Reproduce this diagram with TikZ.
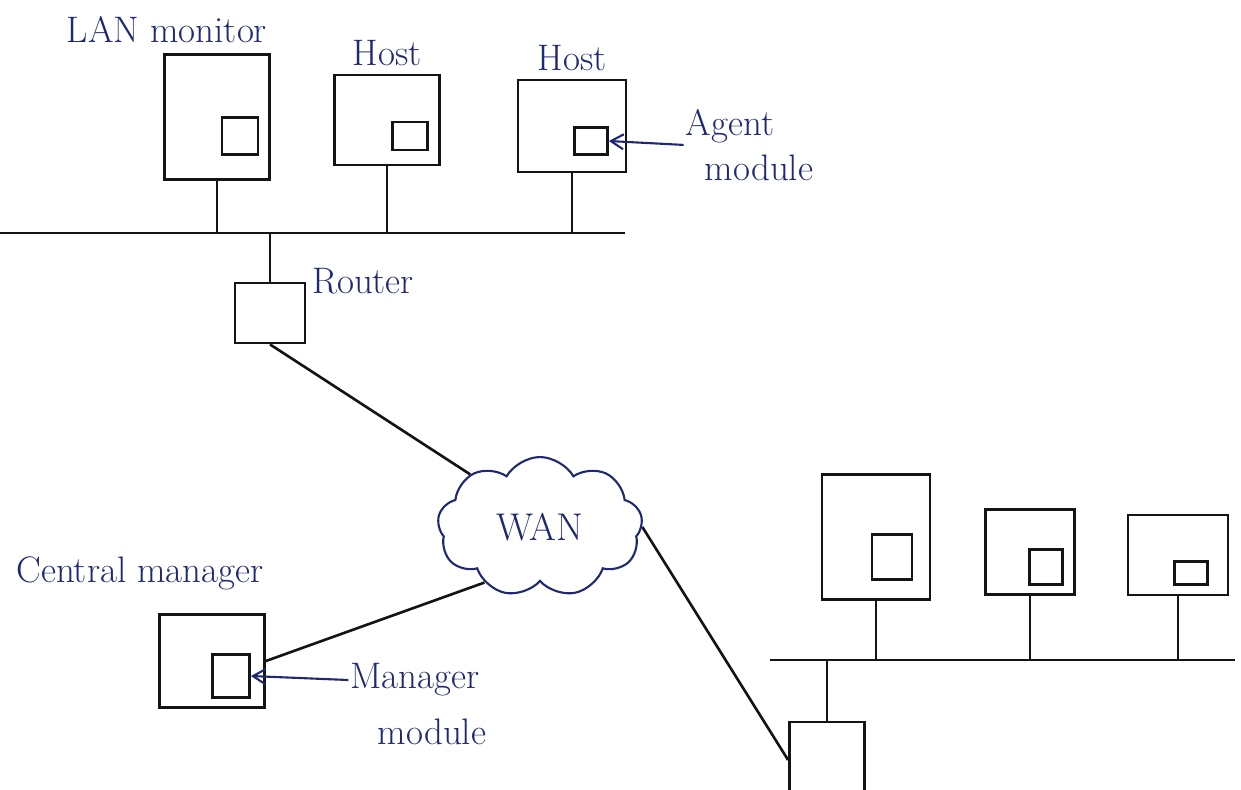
\documentclass[tikz,border=0pt]{standalone}
\usepackage{tikz}
\usetikzlibrary{shapes.symbols, arrows.meta, positioning}
\definecolor{ink}{RGB}{30,40,115}
\definecolor{pen}{RGB}{20,20,20}

\begin{document}
\begin{tikzpicture}[x=0.02cm, y=-0.02cm,
    box/.style={draw=pen, rectangle, line width=1.6pt, inner sep=0pt},
    lbl/.style={text=ink, inner sep=1pt, font=\fontsize{21}{25}\selectfont},
    wire/.style={draw=pen, line width=1.5pt},
    pointer/.style={draw=ink, line width=1.2pt, -{Straight Barb[length=2.5mm, width=3mm]}}]
    \useasboundingbox (0,0) rectangle (1241,789);
    \clip (0,0) rectangle (1241,789);
    % LAN with monitor and hosts
    \node (lanmon) [box, minimum width=2.1cm, minimum height=2.5cm] at (217,117) {};
    \node (lanmod) [box, minimum width=0.72cm, minimum height=0.74cm] at (240,136) {};
    \node (host1) [box, minimum width=2.1cm, minimum height=1.8cm] at (387,120) {};
    \node (host1mod) [box, minimum width=0.7cm, minimum height=0.56cm] at (410,136) {};
    \node (host2) [box, minimum width=2.16cm, minimum height=1.84cm] at (572,126) {};
    \node (host2mod) [box, minimum width=0.66cm, minimum height=0.54cm] at (591,141) {};
    \node (lanlbl) [lbl] at (167,30) {LAN monitor};
    \node (host1lbl) [lbl, above=0.12cm of host1] {Host};
    \node (host2lbl) [lbl, above=0.12cm of host2] {Host};
    \node (agenta) [lbl] at (730,126) {Agent};
    \node (agentb) [lbl] at (759,168) {module};
    \coordinate (busAw) at (0,233);
    \coordinate (busAe) at (625,233);
    \draw[wire] (busAw) -- (busAe);
    \draw[wire] (lanmon.south) -- (lanmon.south |- busAw);
    \draw[wire] (host1.south) -- (host1.south |- busAw);
    \draw[wire] (host2.south) -- (host2.south |- busAw);
    \draw[pointer] (agenta.south west) -- (host2mod.east);
    % router and WAN
    \node (router1) [box, minimum width=1.4cm, minimum height=1.2cm] at (270,313) {};
    \node (routerlbl) [lbl, right=2pt of router1.north east] {Router};
    \draw[wire] (router1.north) -- (router1.north |- busAw);
    \node (wan) [draw=ink, line width=1.2pt, cloud, cloud puffs=9, cloud puff arc=120,
        cloud ignores aspect, minimum width=4.1cm, minimum height=2.8cm,
        text=ink, font=\fontsize{22}{26}\selectfont] at (540,527) {WAN};
    \draw[wire] (router1.south) -- (wan.143);
    % central manager
    \node (cmgr) [box, minimum width=2.1cm, minimum height=1.86cm] at (212,661) {};
    \node (cmod) [box, minimum width=0.74cm, minimum height=0.86cm] at (231,676) {};
    \node (cmgrlbl) [lbl] at (140,573) {Central manager};
    \node (mgra) [lbl] at (415,680) {Manager};
    \node (mgrb) [lbl] at (432,732) {module};
    \draw[wire] (cmgr.east) -- (wan.225);
    \draw[pointer] (mgra.west) -- (cmod.east);
    % remote LAN
    \node (router2) [box, minimum width=1.5cm, minimum height=1.52cm] at (827,760) {};
    \draw[wire] (wan.east) -- (router2.west);
    \node (hosta) [box, minimum width=2.16cm, minimum height=2.5cm] at (876,537) {};
    \node (hostamod) [box, minimum width=0.8cm, minimum height=0.9cm] at (892,557) {};
    \node (hostb) [box, minimum width=1.78cm, minimum height=1.7cm] at (1030,552) {};
    \node (hostbmod) [box, minimum width=0.66cm, minimum height=0.7cm] at (1046,567) {};
    \node (hostc) [box, minimum width=2.0cm, minimum height=1.6cm] at (1178,555) {};
    \node (hostcmod) [box, minimum width=0.66cm, minimum height=0.46cm] at (1191,573) {};
    \coordinate (busBw) at (770,660);
    \coordinate (busBe) at (1235,660);
    \draw[wire] (busBw) -- (busBe);
    \draw[wire] (hosta.south) -- (hosta.south |- busBw);
    \draw[wire] (hostb.south) -- (hostb.south |- busBw);
    \draw[wire] (hostc.south) -- (hostc.south |- busBw);
    \draw[wire] (router2.north) -- (router2.north |- busBw);
\end{tikzpicture}
\end{document}
